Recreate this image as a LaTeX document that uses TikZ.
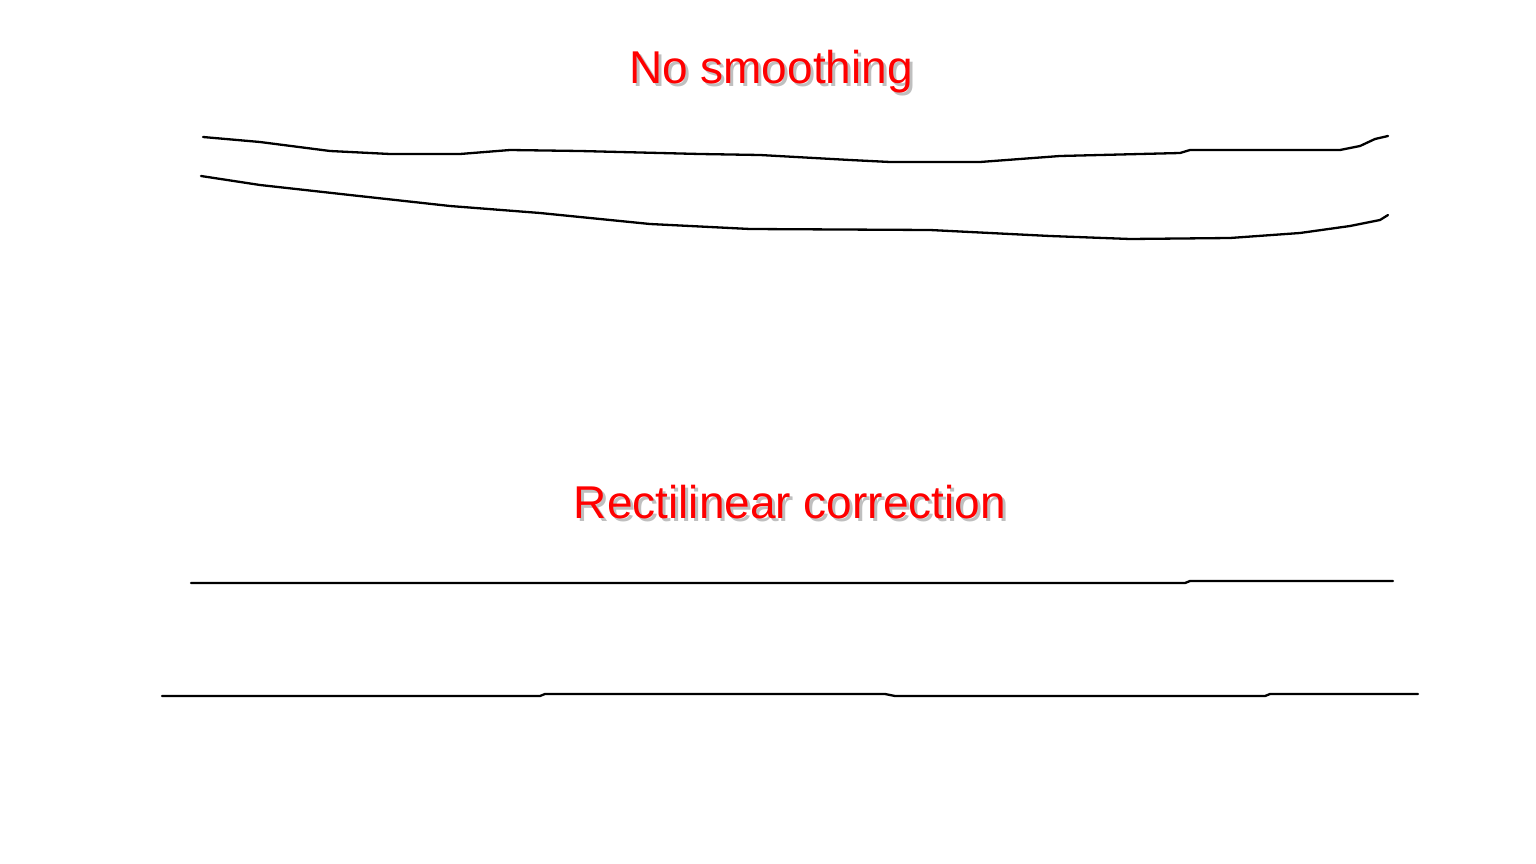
\documentclass[tikz,border=0pt]{standalone}
\usepackage{fontspec}
\setmainfont{Liberation Sans}
\begin{document}
\begin{tikzpicture}[x=1pt,y=-1pt,
  ttl/.style={text=red,font=\fontsize{46}{50}\selectfont,inner sep=0pt},
  shd/.style={text=black!25,font=\fontsize{46}{50}\selectfont,inner sep=0pt},
  stroke/.style={line width=2.3pt,line join=round,line cap=round}]
\useasboundingbox (0,0) rectangle (1536,864);
\node[shd] (s1) at (774,75) {No smoothing};
\node[ttl] (t1) at (771,72) {No smoothing};
\node[shd] (s2) at (793,505) {Rectilinear correction};
\node[ttl] (t2) at (790,502) {Rectilinear correction};
\draw[stroke] (203,137) -- (260,142) -- (330,151) -- (390,154) -- (460,154) -- (510,150) -- (580,151) -- (700,154) -- (760,155) -- (850,160) -- (890,162) -- (980,162) -- (1060,156) -- (1180,153) -- (1190,150) -- (1270,150) -- (1340,150) -- (1360,146) -- (1375,139) -- (1388,136);
\draw[stroke] (201,176) -- (260,185) -- (350,195) -- (450,206) -- (540,213) -- (650,224) -- (750,229) -- (930,230) -- (1050,236) -- (1130,239) -- (1230,238) -- (1300,233) -- (1350,226) -- (1380,220) -- (1388,215);
\draw[stroke] (191,583) -- (1185,583) -- (1190,581) -- (1393,581);
\draw[stroke] (162,696) -- (540,696) -- (545,694) -- (885,694) -- (895,696) -- (1265,696) -- (1270,694) -- (1418,694);
\end{tikzpicture}
\end{document}
